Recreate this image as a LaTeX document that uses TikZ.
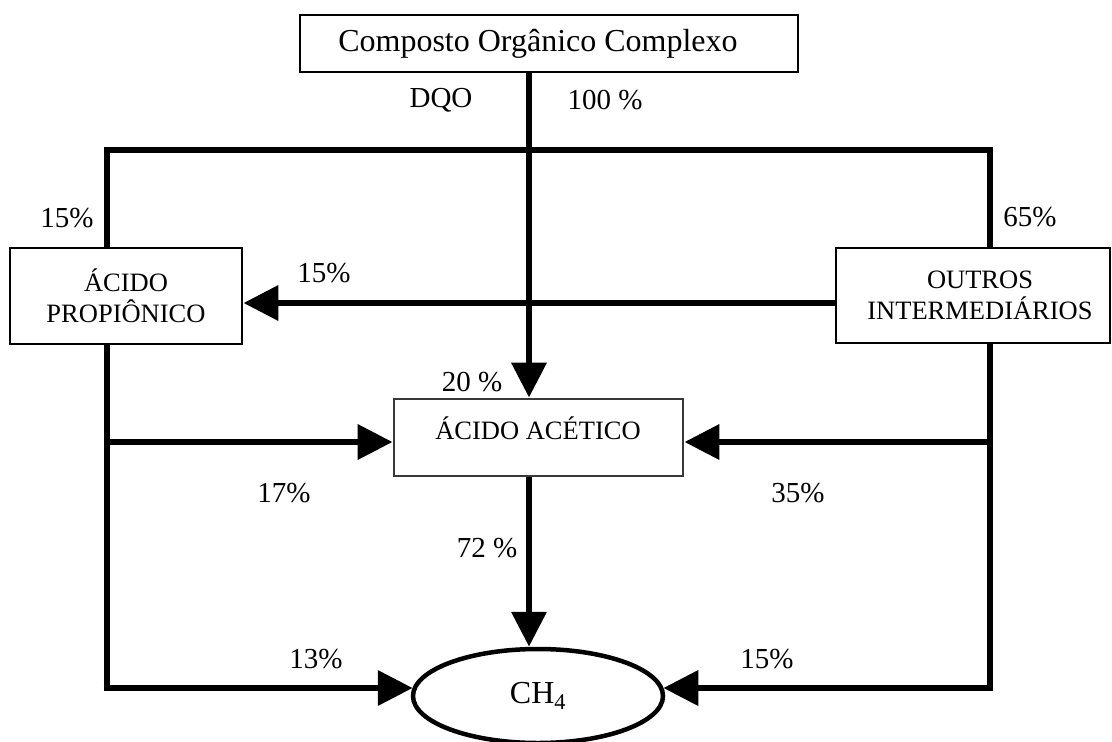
\documentclass[tikz,border=0pt]{standalone}
\usepackage{fontspec}
\setmainfont{Liberation Serif}
\usetikzlibrary{arrows.meta,shapes.geometric}
\tikzset{
  flow/.style={line width=6.8pt, line cap=butt, line join=miter},
  arr/.style={flow, -{Triangle[length=35pt,width=34pt]}},
  boxA/.style={draw, line width=2.8pt, rectangle, inner sep=0pt, align=center,
    font=\fontsize{26.5}{30.5}\selectfont},
  pct/.style={inner sep=0pt, font=\fontsize{29}{33}\selectfont},
}
\begin{document}
\begin{tikzpicture}[x=1pt,y=-1pt]
\useasboundingbox (0,0) rectangle (1112,742);
% nodes
\node[boxA, minimum width=498pt, minimum height=57pt, font=\fontsize{32}{36}\selectfont] (top) at (549,43.5) {Composto Orgânico Complexo\hspace*{22pt}};
\node[boxA, minimum width=232pt, minimum height=96pt] (lbox) at (126,296) {ÁCIDO\\PROPIÔNICO};
\node[boxA, minimum width=274pt, minimum height=95pt] (rbox) at (973,295.5) {\hspace*{14pt}OUTROS\\\hspace*{14pt}INTERMEDIÁRIOS};
\node[draw=black!78, line width=2.8pt, rectangle, minimum width=289pt, minimum height=77pt, inner sep=0pt] (acet) at (538.5,437.5) {};
\node[inner sep=0pt, font=\fontsize{26.5}{30.5}\selectfont] (acettxt) at (538,428) {ÁCIDO ACÉTICO};
\node[draw, ellipse, line width=4.5pt, minimum width=250pt, minimum height=94pt, inner sep=0pt, font=\fontsize{32}{36}\selectfont] (ell) at (538,696) {CH\textsubscript{4}};
% coordinates
\coordinate (cx) at (529,0);
\coordinate (lx) at (107,0);
\coordinate (rx) at (990,0);
\coordinate (hub) at (529,150);
\coordinate (rowP) at (0,303);
\coordinate (rowA) at (0,442);
\coordinate (rowB) at (0,688);
\coordinate (lbr) at (107,442);
\coordinate (rbr) at (990,442);
\coordinate (lbot) at (107,688);
\coordinate (rbot) at (990,688);
% connectors
\draw[arr] (top.south -| cx) -- (acet.north -| cx);
\draw[flow] (lbox.north -| lx) |- (hub) -| (rbox.north -| rx);
\draw[arr] (rbox.west |- rowP) -- (lbox.east |- rowP);
\draw[flow] (lbox.south -| lx) -- (lbot);
\draw[flow] (rbox.south -| rx) -- (rbot);
\draw[arr] (lbr) -- (acet.west |- rowA);
\draw[arr] (rbr) -- (acet.east |- rowA);
\draw[arr] (acet.south -| cx) -- (ell.north -| cx);
\draw[arr] ([xshift=-3.4pt]lbot) -- ([xshift=2pt]ell.west |- rowB);
\draw[arr] ([xshift=3.4pt]rbot) -- ([xshift=-2pt]ell.east |- rowB);
% labels
\node[pct] (l1) at (441,100) {DQO};
\node[pct] (l2) at (605,100) {100 \%};
\node[pct] (l3) at (67,218) {15\%};
\node[pct] (l4) at (1030,217) {65\%};
\node[pct] (l5) at (324,273) {15\%};
\node[pct] (l6) at (472,382) {20 \%};
\node[pct] (l7) at (284,493) {17\%};
\node[pct] (l8) at (798,493) {35\%};
\node[pct] (l9) at (487,548) {72 \%};
\node[pct] (l10) at (316,659) {13\%};
\node[pct] (l11) at (767,659) {15\%};
\end{tikzpicture}
\end{document}
